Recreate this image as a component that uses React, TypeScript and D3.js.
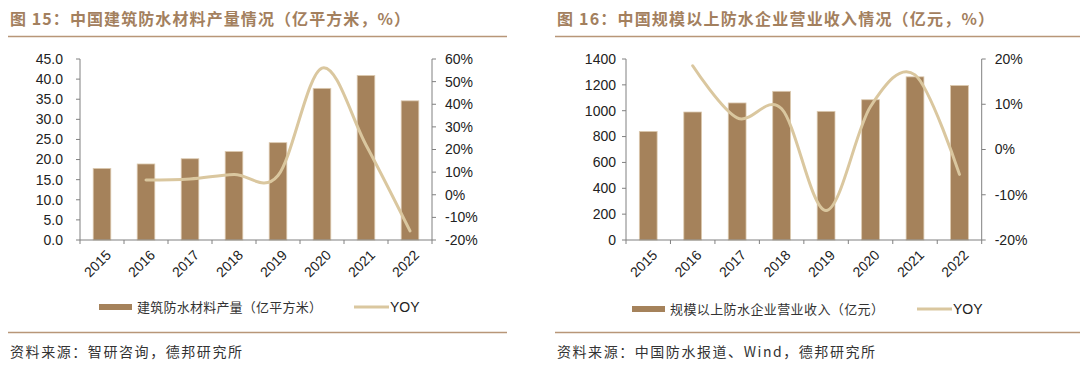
import React from "react";
import * as d3 from "d3";

// shared categories
const years = ["2015", "2016", "2017", "2018", "2019", "2020", "2021", "2022"];

// Fig 15: waterproof material output (亿平方米) and YOY (%)
const outputVals = [17.8, 18.9, 20.2, 22.0, 24.2, 37.7, 40.9, 34.6];
const outputYoy = [null, 6.5, 7.0, 9.0, 8.5, 56.0, 22.0, -16.0];
const outputTicks = [0, 5, 10, 15, 20, 25, 30, 35, 40, 45];
const outputYoyTicks = [-20, -10, 0, 10, 20, 30, 40, 50, 60];

// Fig 16: revenue of large waterproof firms (亿元) and YOY (%)
const revenueVals = [840, 990, 1060, 1150, 995, 1085, 1262, 1195];
const revenueYoy = [null, 18.5, 7.0, 9.0, -13.5, 9.5, 16.5, -5.5];
const revenueTicks = [0, 200, 400, 600, 800, 1000, 1200, 1400];
const revenueYoyTicks = [-20, -10, 0, 10, 20];

const BAR = "#a5825b";
const BAR_EDGE = "#dccab0";
const LINE = "#dac79f";
const TITLE = "#a3805e";
const RULE = "#b89678";
const AXIS = "#808080";
const LATIN = "'Liberation Sans', Arial, sans-serif";
const CJK = "'Noto Sans CJK SC', sans-serif";

type PanelProps = {
  title: string;
  titleW: number;
  source: string;
  sourceW: number;
  legendName: string;
  legendW: number;
  vals: number[];
  yoy: (number | null)[];
  leftTicks: number[];
  leftFmt: (v: number) => string;
  rightTicks: number[];
  plotL: number;
  plotR: number;
  leftGap: number;
  legendX: number;
  legendLineX: number;
  legendY: number;
  ruleX0: number;
  ruleX1: number;
  textX: number;
};

function Panel(p: PanelProps) {
  const top = 59,
    bottom = 240;

  const x = d3
    .scaleBand<string>()
    .domain(years)
    .range([p.plotL, p.plotR])
    .paddingInner(0.6)
    .paddingOuter(0.3);
  const step = x.step();
  const yL = d3
    .scaleLinear()
    .domain([p.leftTicks[0], p.leftTicks[p.leftTicks.length - 1]])
    .range([bottom, top]);
  const yR = d3
    .scaleLinear()
    .domain([p.rightTicks[0], p.rightTicks[p.rightTicks.length - 1]])
    .range([bottom, top]);

  const pts = years
    .map((yr, i) => [x(yr)! + x.bandwidth() / 2, p.yoy[i]] as [number, number | null])
    .filter((d) => d[1] !== null)
    .map((d) => [d[0], yR(d[1] as number)] as [number, number]);
  const path = d3.line().curve(d3.curveCardinal.tension(0))(pts) || "";

  // tick marks between categories on x axis
  const xTicks = d3.range(years.length + 1).map((i) => p.plotL + i * step);

  return (
    <g>
      <text
        x={p.textX}
        y={25}
        fill={TITLE}
        fontFamily={CJK}
        fontWeight="bold"
        fontSize={16}
        textLength={p.titleW}
        lengthAdjust="spacing"
      >
        {p.title}
      </text>
      <line x1={p.ruleX0} x2={p.ruleX1} y1={36.5} y2={36.5} stroke={RULE} strokeWidth={1.5} />

      {/* bars */}
      {years.map((yr, i) => (
        <rect
          key={yr}
          x={x(yr)}
          y={yL(p.vals[i])}
          width={x.bandwidth()}
          height={bottom - yL(p.vals[i])}
          fill={BAR}
          stroke={BAR_EDGE}
          strokeWidth={0.8}
        />
      ))}

      {/* axes */}
      <line x1={p.plotL} x2={p.plotL} y1={top} y2={bottom} stroke={AXIS} />
      <line x1={p.plotR} x2={p.plotR} y1={top} y2={bottom} stroke={AXIS} />
      <line x1={p.plotL} x2={p.plotR} y1={bottom} y2={bottom} stroke={AXIS} />
      {p.leftTicks.map((t) => (
        <g key={"l" + t}>
          <line x1={p.plotL - 4} x2={p.plotL} y1={yL(t)} y2={yL(t)} stroke={AXIS} />
          <text
            x={p.plotL - p.leftGap}
            y={yL(t)}
            dy="0.35em"
            textAnchor="end"
            fontFamily={LATIN}
            fontSize={14}
            fill="#222"
          >
            {p.leftFmt(t)}
          </text>
        </g>
      ))}
      {p.rightTicks.map((t) => (
        <g key={"r" + t}>
          <line x1={p.plotR} x2={p.plotR + 4} y1={yR(t)} y2={yR(t)} stroke={AXIS} />
          <text x={p.plotR + 13} y={yR(t)} dy="0.35em" fontFamily={LATIN} fontSize={14} fill="#222">
            {t + "%"}
          </text>
        </g>
      ))}
      {xTicks.map((tx, i) => (
        <line key={"x" + i} x1={tx} x2={tx} y1={bottom} y2={bottom + 4} stroke={AXIS} />
      ))}
      {years.map((yr) => {
        const cx = x(yr)! + x.bandwidth() / 2 + 3;
        const cy = bottom + 9;
        return (
          <text
            key={"t" + yr}
            x={cx}
            y={cy}
            textAnchor="end"
            dy="0.7em"
            transform={`rotate(-45 ${cx} ${cy})`}
            fontFamily={LATIN}
            fontSize={14}
            fill="#222"
          >
            {yr}
          </text>
        );
      })}

      {/* YOY line */}
      <path d={path} fill="none" stroke={LINE} strokeWidth={3} strokeLinecap="round" />

      {/* legend */}
      <rect x={p.legendX} y={p.legendY - 3} width={33} height={6} fill={BAR} />
      <text
        x={p.legendX + 38}
        y={p.legendY}
        dy="0.36em"
        fontFamily={CJK}
        fontSize={13}
        fill="#333"
        textLength={p.legendW}
        lengthAdjust="spacing"
      >
        {p.legendName}
      </text>
      <line
        x1={p.legendLineX}
        x2={p.legendLineX + 35}
        y1={p.legendY}
        y2={p.legendY}
        stroke={LINE}
        strokeWidth={3}
      />
      <text x={p.legendLineX + 36} y={p.legendY} dy="0.36em" fontFamily={LATIN} fontSize={14} fill="#222">
        YOY
      </text>

      <line x1={p.ruleX0} x2={p.ruleX1} y1={332.5} y2={332.5} stroke={RULE} strokeWidth={1.5} />
      <text
        x={p.textX}
        y={357}
        fontFamily={CJK}
        fontSize={14}
        fill="#333"
        textLength={p.sourceW}
        lengthAdjust="spacing"
      >
        {p.source}
      </text>
    </g>
  );
}

export default function App() {
  return (
    <svg
      width={1080}
      height={371}
      style={{ position: "absolute", left: 0, top: 0, background: "#fff" }}
    >
      <Panel
        title="图 15：中国建筑防水材料产量情况（亿平方米，%）"
        titleW={400}
        source="资料来源：智研咨询，德邦研究所"
        sourceW={232}
        legendName="建筑防水材料产量（亿平方米）"
        legendW={185}
        vals={outputVals}
        yoy={outputYoy}
        leftTicks={outputTicks}
        leftFmt={(v) => v.toFixed(1)}
        rightTicks={outputYoyTicks}
        plotL={80}
        plotR={432}
        leftGap={17}
        legendX={99}
        legendLineX={354}
        legendY={307}
        ruleX0={8}
        ruleX1={507}
        textX={10}
      />
      <Panel
        title="图 16：中国规模以上防水企业营业收入情况（亿元，%）"
        titleW={437}
        source="资料来源：中国防水报道、Wind，德邦研究所"
        sourceW={318}
        legendName="规模以上防水企业营业收入（亿元）"
        legendW={214}
        vals={revenueVals}
        yoy={revenueYoy}
        leftTicks={revenueTicks}
        leftFmt={(v) => String(v)}
        rightTicks={revenueYoyTicks}
        plotL={626}
        plotR={981.7}
        leftGap={10}
        legendX={632}
        legendLineX={917}
        legendY={309}
        ruleX0={555}
        ruleX1={1080}
        textX={557}
      />
    </svg>
  );
}
